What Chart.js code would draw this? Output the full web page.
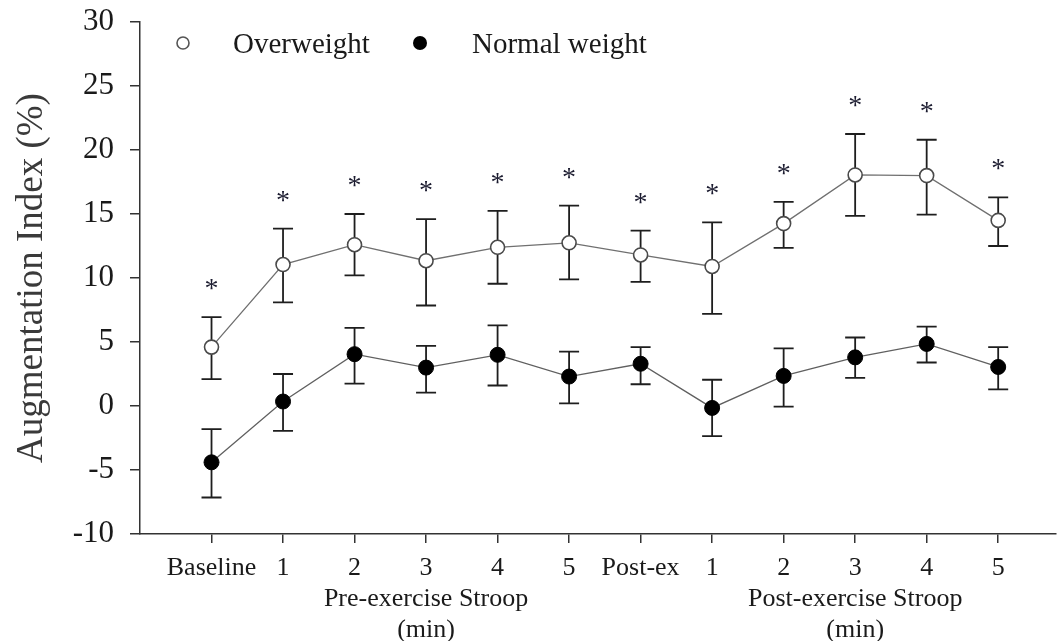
<!DOCTYPE html>
<html>
<head>
<meta charset="utf-8">
<script src="https://cdn.jsdelivr.net/npm/chart.js@4.4.0/dist/chart.umd.min.js"></script>
<style>
  html, body { margin: 0; padding: 0; background: #fff; }
  #wrap { width: 1064px; height: 641px; }
</style>
</head>
<body>
<div id="wrap"><canvas id="chart"></canvas></div>
<script>
// Categories along the x axis
const categories = ["Baseline", "1", "2", "3", "4", "5", "Post-ex", "1", "2", "3", "4", "5"];
// Extra lines under some tick labels (group names)
const groupLabels = ["", "", "", ["Pre-exercise Stroop", "(min)"], "", "", "", "", "", ["Post-exercise Stroop", "(min)"], "", ""];

// Overweight: mean and error bar ends
const overweight = [4.6, 11.05, 12.6, 11.35, 12.4, 12.75, 11.8, 10.9, 14.25, 18.05, 18.0, 14.5];
const overweightHi = [6.95, 13.85, 15.0, 14.6, 15.25, 15.65, 13.7, 14.35, 15.95, 21.25, 20.8, 16.3];
const overweightLo = [2.1, 8.1, 10.2, 7.85, 9.55, 9.9, 9.7, 7.2, 12.35, 14.85, 14.95, 12.5];

// Normal weight: mean and error bar ends
const normal = [-4.4, 0.35, 4.05, 3.0, 4.0, 2.3, 3.3, -0.15, 2.35, 3.8, 4.85, 3.05];
const normalHi = [-1.8, 2.5, 6.1, 4.7, 6.3, 4.25, 4.6, 2.05, 4.5, 5.35, 6.2, 4.6];
const normalLo = [-7.15, -1.95, 1.75, 1.05, 1.6, 0.2, 1.7, -2.35, -0.05, 2.2, 3.4, 1.3];

// significant difference marks (shown over overweight)
const significant = [true, true, true, true, true, true, true, true, true, true, true, true];

const yTicks = [30, 25, 20, 15, 10, 5, 0, -5, -10];

const serif = "'Liberation Serif', 'Times New Roman', serif";

const toPoints = arr => arr.map((v, i) => ({ x: i, y: v }));

const errorBars = {
	id: "errorBars",
	beforeDatasetsDraw(chart) {
		const { ctx, scales } = chart;
		const sets = [
			[overweightHi, overweightLo],
			[normalHi, normalLo],
		];
		ctx.save();
		ctx.strokeStyle = "#1e1e1e";
		ctx.lineWidth = 1.8;
		sets.forEach(([hi, lo]) => {
			hi.forEach((h, i) => {
				const x = scales.x.getPixelForValue(i);
				const yh = scales.y.getPixelForValue(h);
				const yl = scales.y.getPixelForValue(lo[i]);
				ctx.beginPath();
				ctx.moveTo(x, yh);
				ctx.lineTo(x, yl);
				ctx.moveTo(x - 10, yh);
				ctx.lineTo(x + 10, yh);
				ctx.moveTo(x - 10, yl);
				ctx.lineTo(x + 10, yl);
				ctx.stroke();
			});
		});
		ctx.restore();
	},
	afterDraw(chart) {
		const { ctx, scales } = chart;
		ctx.save();
		// asterisks
		ctx.fillStyle = "#1c1c30";
		ctx.font = "28px " + serif;
		ctx.textAlign = "center";
		ctx.textBaseline = "alphabetic";
		significant.forEach((s, i) => {
			if (!s) return;
			const x = scales.x.getPixelForValue(i);
			const y = scales.y.getPixelForValue(overweightHi[i]);
			ctx.fillText("*", x, y - 20);
		});

		// legend
		ctx.textAlign = "left";
		ctx.font = "29px " + serif;
		ctx.lineWidth = 1.6;
		ctx.strokeStyle = "#555";
		ctx.beginPath();
		ctx.arc(183, 43, 6, 0, Math.PI * 2);
		ctx.fillStyle = "#fff";
		ctx.fill();
		ctx.stroke();
		ctx.fillStyle = "#1a1a1a";
		ctx.fillText("Overweight", 233, 53);
		ctx.beginPath();
		ctx.arc(420, 43, 7, 0, Math.PI * 2);
		ctx.fillStyle = "#000";
		ctx.fill();
		ctx.fillStyle = "#1a1a1a";
		ctx.fillText("Normal weight", 472, 53);
		ctx.restore();
	},
};

new Chart(document.getElementById("chart"), {
	type: "line",
	data: {
		datasets: [
			{
				label: "Overweight",
				data: toPoints(overweight),
				borderColor: "#707070",
				borderWidth: 1.3,
				pointRadius: 7,
				pointBackgroundColor: "#fff",
				pointBorderColor: "#4a4a4a",
				pointBorderWidth: 1.6,
				tension: 0,
			},
			{
				label: "Normal weight",
				data: toPoints(normal),
				borderColor: "#606060",
				borderWidth: 1.3,
				pointRadius: 7.5,
				pointBackgroundColor: "#000",
				pointBorderColor: "#000",
				pointBorderWidth: 1,
				tension: 0,
			},
		],
	},
	options: {
		responsive: true,
		maintainAspectRatio: false,
		animation: false,
		layout: { padding: { top: 22, right: 0, left: 0, bottom: 0 } },
		plugins: {
			legend: { display: false },
			tooltip: { enabled: false },
		},
		scales: {
			x: {
				type: "linear",
				min: -1,
				max: 11.8,
				afterBuildTicks: scale => {
					scale.ticks = categories.map((c, i) => ({ value: i }));
				},
				afterFit: scale => {
					scale.height = 107;
				},
				grid: {
					drawOnChartArea: false,
					drawTicks: true,
					tickLength: 9,
					color: "#333",
					lineWidth: 1.5,
				},
				border: { display: true, color: "#333", width: 1.5 },
				ticks: {
					autoSkip: false,
					maxRotation: 0,
					minRotation: 0,
					padding: 10,
					color: "#1a1a1a",
					font: { family: serif, size: 26, lineHeight: 1.18 },
					callback: value => {
						const sub = groupLabels[value];
						return sub ? [categories[value]].concat(sub) : categories[value];
					},
				},
			},
			y: {
				min: -10,
				max: 30,
				afterBuildTicks: scale => {
					scale.ticks = yTicks.map(v => ({ value: v }));
				},
				afterFit: scale => {
					scale.width = 140;
				},
				grid: {
					drawOnChartArea: false,
					drawTicks: true,
					tickLength: 10,
					color: "#333",
					lineWidth: 1.5,
				},
				border: { display: true, color: "#333", width: 1.5 },
				ticks: {
					padding: 16,
					color: "#1a1a1a",
					// small lineHeight keeps the label padding from pushing the plot down
					font: { family: serif, size: 31, lineHeight: 0.35 },
				},
				title: {
					display: true,
					text: "Augmentation Index (%)",
					color: "#3a3a3a",
					font: { family: serif, size: 37 },
					padding: { top: 10, bottom: 0 },
				},
			},
		},
	},
	plugins: [errorBars],
});
</script>
</body>
</html>
